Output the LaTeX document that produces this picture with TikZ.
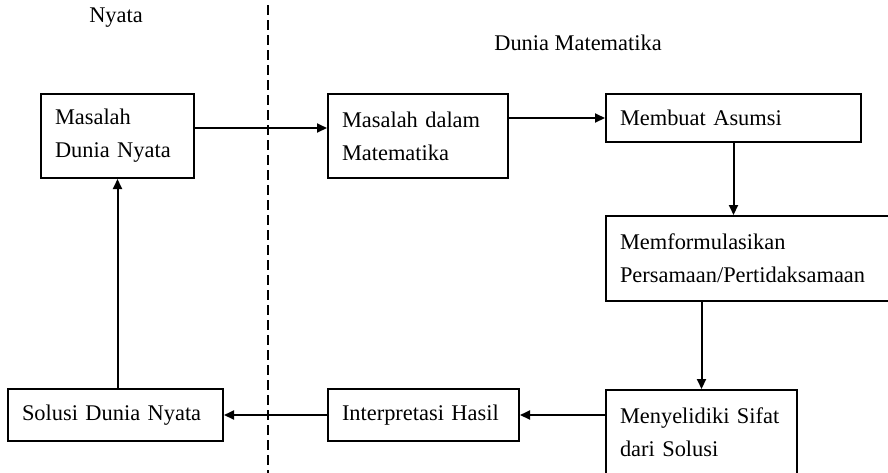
\documentclass[tikz,border=0pt]{standalone}
\usepackage{fontspec}
\setmainfont{Liberation Serif}
\usetikzlibrary{arrows.meta}

\begin{document}
\begin{tikzpicture}[x=0.5pt,y=-0.5pt,
    font=\fontsize{11.2}{16.5}\selectfont,
    kotak/.style={draw, line width=1pt, anchor=north west, align=left,
      inner xsep=7pt, inner ysep=0pt},
    panah/.style={-{Triangle[length=5pt,width=4.5pt]}, line width=1pt}]

      \path[use as bounding box, clip] (0,0) rectangle (888,472);

      % garis pemisah dunia nyata / dunia matematika
      \draw[line width=0.7pt, dash pattern=on 5pt off 2.5pt] (268,5) -- (268,480);
      \node (nyata) at (116,18) {Nyata};
      \node (dunia) at (578,43) {Dunia Matematika};

      % kotak-kotak tahapan
      \node[kotak, text width=62.5pt, minimum height=42pt] (mdn) at (40,93) {Masalah\\Dunia Nyata};
      \node[kotak, text width=76pt, minimum height=42pt] (mdm) at (327,93) {Masalah dalam\\Matematika};
      \node[kotak, text width=113.5pt, minimum height=24pt] (asumsi) at (605,93) {Membuat Asumsi};
      \node[kotak, text width=131pt, minimum height=42.5pt] (formulasi) at (605,215) {Memformulasikan\\Persamaan/Pertidaksamaan};
      \node[kotak, text width=81.5pt, minimum height=42.5pt] (selidiki) at (605,389) {Menyelidiki Sifat\\dari Solusi};
      \node[kotak, text width=81.5pt, minimum height=26pt] (interp) at (327,388) {Interpretasi Hasil};
      \node[kotak, text width=93.5pt, minimum height=26pt] (solusi) at (7,388) {Solusi Dunia Nyata};

      % panah alur
      \draw[panah] ([yshift=4pt]mdn.east) -- ([yshift=4pt]mdm.west);
      \draw[panah] (mdm.east |- asumsi.west) -- (asumsi.west);
      \draw[panah] (asumsi.south) -- (asumsi.south |- formulasi.north);
      \draw[panah] (selidiki.north |- formulasi.south) -- (selidiki.north);
      \draw[panah] (selidiki.west |- interp.east) -- (interp.east);
      \draw[panah] (interp.west) -- (solusi.east);
      \draw[panah] (mdn.south |- solusi.north) -- (mdn.south);

    \end{tikzpicture}
\end{document}
